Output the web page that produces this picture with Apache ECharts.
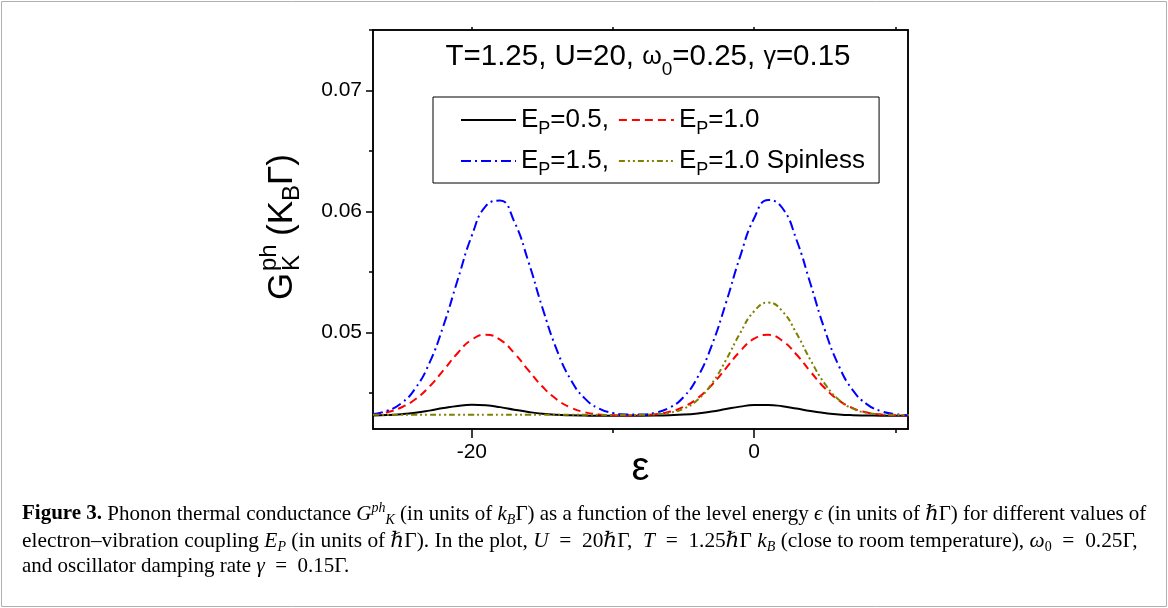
<!DOCTYPE html>
<html><head><meta charset="utf-8">
<script src="https://cdn.jsdelivr.net/npm/echarts@6/dist/echarts.min.js"></script>
<style>html,body{margin:0;padding:0;background:#fff;} #c{width:1168px;height:608px;}</style>
</head><body><div id="c"></div>
<script>
// ---- data ----
const epsilon = [-27,-26,-25,-24,-23,-22,-21,-20,-19,-18,-17,-16,-15,-14,-13,-12,-11,-10,-9,-8,-7,-6,-5,-4,-3,-2,-1,0,1,2,3,4,5,6,7,8,9,10,11];
const gEp05 = [0.04312,0.04315,0.04322,0.04334,0.04352,0.04373,0.04391,0.04400,0.04396,0.04381,0.04360,0.04341,0.04326,0.04317,0.04313,0.04311,0.04310,0.04310,0.04310,0.04310,0.04311,0.04314,0.04319,0.04329,0.04344,0.04365,0.04385,0.04398,0.04399,0.04388,0.04369,0.04348,0.04332,0.04320,0.04314,0.04312,0.04310,0.04310,0.04310];
const gEp10 = [0.04321,0.04339,0.04378,0.04446,0.04551,0.04687,0.04829,0.04939,0.04980,0.04939,0.04829,0.04687,0.04551,0.04446,0.04378,0.04339,0.04321,0.04314,0.04312,0.04315,0.04322,0.04342,0.04383,0.04455,0.04564,0.04702,0.04842,0.04947,0.04979,0.04930,0.04816,0.04673,0.04539,0.04437,0.04372,0.04337,0.04320,0.04313,0.04311];
const gEp15 = [0.04324,0.04351,0.04412,0.04536,0.04747,0.05058,0.05434,0.05799,0.06045,0.06089,0.05917,0.05588,0.05203,0.04861,0.04609,0.04453,0.04370,0.04332,0.04320,0.04320,0.04335,0.04376,0.04464,0.04629,0.04892,0.05241,0.05624,0.05943,0.06095,0.06028,0.05765,0.05397,0.05022,0.04722,0.04519,0.04404,0.04347,0.04323,0.04314];
const gEp10Spinless = [0.04318,0.04318,0.04318,0.04318,0.04318,0.04318,0.04318,0.04318,0.04318,0.04318,0.04318,0.04318,0.04318,0.04318,0.04318,0.04317,0.04317,0.04316,0.04316,0.04317,0.04322,0.04334,0.04368,0.04442,0.04575,0.04769,0.04991,0.05174,0.05246,0.05174,0.04991,0.04769,0.04575,0.04442,0.04368,0.04334,0.04322,0.04317,0.04316];
const seriesNames = ['EP=0.5,', 'EP=1.0', 'EP=1.5,', 'EP=1.0 Spinless'];
const xMajorTicks = [-20, 0];
const xMinorTicks = [-10, 10];
const xTopTicks = [-20, -10, 0, 10];
const yMajorTicks = [0.05, 0.06, 0.07];
const yMinorTicks = [0.045, 0.055, 0.065, 0.075];
const xRange = [-27, 10.9];
const yRange = [0.042, 0.075];

const SANS = '"Liberation Sans", Arial, sans-serif';
const SERIF = '"Liberation Serif", "DejaVu Serif", serif';
const pairs = v => epsilon.map((e, i) => [e, v[i]]);
const axisLS = {color: '#000', width: 1.5};

const seriesDefs = [
  {name: seriesNames[0], data: gEp05, color: '#000000', type: 'solid'},
  {name: seriesNames[1], data: gEp10, color: '#ff0000', type: [8, 5]},
  {name: seriesNames[2], data: gEp15, color: '#0000ff', type: [10, 4, 2, 4]},
  {name: seriesNames[3], data: gEp10Spinless, color: '#808000', type: [6, 3, 2, 3, 2, 3]}
];

function capRich(fs) {
  return {
    r: {fontFamily: SERIF, fontSize: fs, lineHeight: 26, fill: '#000', color: '#000'},
    b: {fontFamily: SERIF, fontSize: fs, fontWeight: 'bold', lineHeight: 26, fill: '#000', color: '#000'},
    i: {fontFamily: SERIF, fontSize: fs, fontStyle: 'italic', lineHeight: 26, fill: '#000', color: '#000'},
    sub: {fontFamily: SERIF, fontSize: 14, fontStyle: 'italic', lineHeight: 26, height: 14, verticalAlign: 'bottom', fill: '#000', color: '#000'},
    subr: {fontFamily: SERIF, fontSize: 14, lineHeight: 26, height: 14, verticalAlign: 'bottom', fill: '#000', color: '#000'},
    sup: {fontFamily: SERIF, fontSize: 14, fontStyle: 'italic', lineHeight: 26, height: 14, verticalAlign: 'top', fill: '#000', color: '#000'}
  };
}
const E2 = '\u2002';
const captionLines = [
  '{b|Figure 3.}{r| Phonon thermal conductance }{i|G}{sup|ph}{sub|K}{r| (in units of }{i|k}{sub|B}{r|Γ) as a function of the level energy }{i|ϵ}{r| (in units of ℏΓ) for different values of}',
  '{r|electron–vibration coupling }{i|E}{sub|P}{r| (in units of ℏΓ). In the plot, }{i|U}{r|' + E2 + '=' + E2 + '20ℏΓ,' + E2 + '}{i|T}{r|' + E2 + '=' + E2 + '1.25ℏΓ }{i|k}{sub|B}{r| (close to room temperature), }{i|ω}{subr|0}{r|' + E2 + '=' + E2 + '0.25Γ,}',
  '{r|and oscillator damping rate }{i|γ}{r|' + E2 + '=' + E2 + '0.15Γ.}'
];
const captionSizes = [21, 21.4, 21];
const captionY = [514, 541, 566];

const tx = (text, x, y, fs) => ({type: 'text', x: x, y: y,
  style: {text: text, font: fs + 'px ' + SANS, fill: '#000', textAlign: 'left', textVerticalAlign: 'middle', align: 'left', verticalAlign: 'middle'}});

const chart = echarts.init(document.getElementById('c'), null, {renderer: 'canvas'});
chart.setOption({
  animation: false,
  backgroundColor: '#fff',
  grid: {left: 373, right: 260, top: 30, bottom: 179, show: true, borderColor: '#000', borderWidth: 1.5},
  legend: {
    left: 433, top: 97, width: 420,
    padding: [9, 14, 4, 27],
    itemGap: 9, itemWidth: 55, itemHeight: 14,
    borderColor: '#000', borderWidth: 1,
    selectedMode: false,
    itemStyle: {opacity: 0},
    data: seriesNames,
    formatter: n => '{e|E}{s|P}{e|' + n.slice(2) + '}',
    textStyle: {
      color: '#000', fontFamily: SANS, fontSize: 26, lineHeight: 28,
      rich: {
        e: {fontFamily: SANS, fontSize: 26, lineHeight: 28, color: '#000'},
        s: {fontFamily: SANS, fontSize: 18, lineHeight: 28, height: 10, verticalAlign: 'bottom', color: '#000'}
      }
    }
  },
  xAxis: [
    {type: 'value', min: xRange[0], max: xRange[1], position: 'bottom',
     axisLine: {show: true, onZero: false, lineStyle: axisLS},
     axisTick: {show: true, length: 9, customValues: xMajorTicks, lineStyle: axisLS},
     axisLabel: {customValues: xMajorTicks, margin: 13, fontSize: 21, color: '#000', fontFamily: SANS},
     splitLine: {show: false},
     name: 'ε', nameLocation: 'middle', nameGap: 20, nameMoveOverlap: false,
     nameTextStyle: {fontSize: 40, color: '#000', fontFamily: SANS}},
    {type: 'value', min: xRange[0], max: xRange[1], position: 'bottom',
     axisLine: {show: false, onZero: false},
     axisTick: {show: true, length: 4, customValues: xMinorTicks, lineStyle: axisLS},
     axisLabel: {show: false}, splitLine: {show: false}},
    {type: 'value', min: xRange[0], max: xRange[1], position: 'top',
     axisLine: {show: true, onZero: false, lineStyle: axisLS},
     axisTick: {show: true, length: 3, customValues: xTopTicks, lineStyle: axisLS},
     axisLabel: {show: false}, splitLine: {show: false}}
  ],
  yAxis: [
    {type: 'value', min: yRange[0], max: yRange[1], position: 'left',
     axisLine: {show: true, onZero: false, lineStyle: axisLS},
     axisTick: {show: true, length: 7, customValues: yMajorTicks, lineStyle: axisLS},
     axisLabel: {customValues: yMajorTicks, margin: 11, fontSize: 21, color: '#000', fontFamily: SANS,
                 formatter: v => v.toFixed(2)},
     splitLine: {show: false}},
    {type: 'value', min: yRange[0], max: yRange[1], position: 'left',
     axisLine: {show: false, onZero: false},
     axisTick: {show: true, length: 4, customValues: yMinorTicks, lineStyle: axisLS},
     axisLabel: {show: false}, splitLine: {show: false}},
    {type: 'value', min: yRange[0], max: yRange[1], position: 'right',
     axisLine: {show: true, onZero: false, lineStyle: axisLS},
     axisTick: {show: false}, axisLabel: {show: false}, splitLine: {show: false}}
  ],
  series: seriesDefs.map(s => ({
    name: s.name, type: 'line', xAxisIndex: 0, yAxisIndex: 0,
    data: pairs(s.data), symbol: 'none', showSymbol: false, smooth: 0.5,
    lineStyle: {color: s.color, width: 2, type: s.type},
    itemStyle: {color: s.color}
  })),
  graphic: [
    {type: 'rect', shape: {x: 1.5, y: 1.5, width: 1165, height: 605},
     style: {fill: 'none', stroke: '#b0b0b0', lineWidth: 1}, silent: true},
    {type: 'text', x: 648, y: 57,
     style: {text: '{a|T=1.25, U=20, }{w|ω}{s|0}{a|=0.25, }{w|γ}{a|=0.15}',
             textAlign: 'center', textVerticalAlign: 'middle', align: 'center', verticalAlign: 'middle',
             rich: {
               a: {fontFamily: SANS, fontSize: 29.5, lineHeight: 36, fill: '#000', color: '#000'},
               w: {fontFamily: SANS, fontSize: 25, lineHeight: 36, fill: '#000', color: '#000'},
               s: {fontFamily: SANS, fontSize: 19, lineHeight: 36, height: 11, verticalAlign: 'bottom', fill: '#000', color: '#000'}
             }}},
    {type: 'group', x: 282, y: 300, rotation: Math.PI / 2, children: [
      tx('G', 0, 0, 35),
      tx('ph', 29, -13, 24),
      tx('K', 29, 10, 24),
      tx('(K', 64, 0, 35),
      tx('B', 99, 10, 24),
      tx('Γ)', 115, 0, 35)
    ]}
  ].concat(captionLines.map((t, k) => ({
    type: 'text', x: 22, y: captionY[k],
    style: {text: t, textAlign: 'left', textVerticalAlign: 'middle', align: 'left', verticalAlign: 'middle',
            rich: capRich(captionSizes[k])}
  })))
});
</script></body></html>
